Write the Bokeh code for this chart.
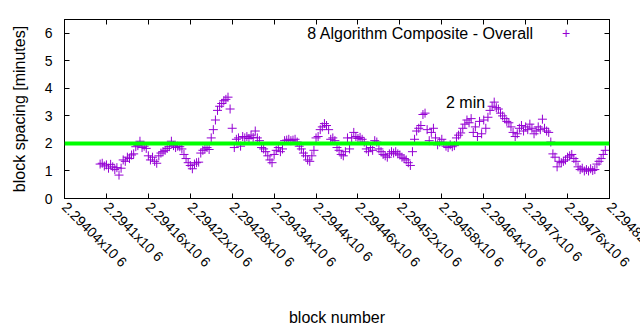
import math
import numpy as np
from bokeh.plotting import figure
from bokeh.models import Span, Label, LinearAxis, FixedTicker, Range1d
from bokeh.embed import file_html
from bokeh.resources import INLINE

# ---- data ----
first_block = 2294091
block_step = 3
spacing_minutes = [
    1.25, 1.28, 1.18, 1.22, 1.10, 1.24, 1.15, 1.05, 1.12, 0.85,
    1.10, 1.40, 1.35, 1.50, 1.45, 1.58, 1.62, 1.88, 1.92, 2.08,
    1.85, 1.90, 1.82, 1.55, 1.40, 1.50, 1.35, 1.28, 1.55, 1.65,
    1.70, 1.75, 1.82, 1.88, 2.08, 1.92, 1.85, 1.90, 1.88, 1.80,
    1.60, 1.45, 1.30, 1.20, 1.08, 1.25, 1.30, 1.32, 1.65, 1.75,
    1.80, 1.85, 1.78, 2.20, 2.50, 2.85, 3.20, 3.35, 3.45, 3.55,
    3.60, 3.68, 3.25, 2.55, 1.85, 2.15, 2.20, 1.90, 2.25, 2.20,
    2.25, 2.18, 2.30, 2.22, 2.45, 2.20, 2.10, 1.85, 1.80, 1.70,
    1.55, 1.40, 1.30, 1.60, 1.75, 1.85, 1.70, 1.80, 2.10, 2.12,
    2.15, 2.10, 2.12, 2.15, 2.05, 1.90, 1.80, 1.65, 1.55, 1.40,
    1.35, 1.55, 1.75, 2.20, 2.25, 2.50, 2.60, 2.72, 2.65, 2.50,
    2.15, 2.20, 2.10, 1.85, 1.75, 1.60, 1.55, 1.70, 2.20, 1.80,
    2.20, 2.40, 2.25, 2.18, 2.22, 2.15, 2.05, 1.80, 1.70, 1.85,
    1.75, 2.10, 2.05, 1.80, 1.70, 1.60, 1.55, 1.50, 1.62, 1.70,
    1.65, 1.70, 1.62, 1.58, 1.50, 1.45, 1.40, 1.30, 1.20, 1.70,
    2.15, 2.45, 2.55, 2.65, 3.05, 3.10, 2.50, 2.10, 2.40, 2.55,
    2.20, 1.95, 2.05, 2.15, 2.00, 1.90, 1.85, 1.95, 1.88, 1.92,
    2.20, 2.30, 2.38, 2.55, 2.70, 2.85, 2.75, 2.90, 2.40, 2.60,
    2.25, 2.80, 2.35, 2.85, 2.55, 2.95, 3.20, 3.35, 3.50, 3.30,
    3.25, 3.10, 3.00, 2.90, 2.80, 2.75, 2.60, 2.40, 2.25, 2.35,
    2.55, 2.65, 2.45, 2.60, 2.50, 2.70, 2.55, 2.35, 2.45, 2.60,
    2.50, 2.88, 2.55, 2.45, 2.40, 2.05, 1.62, 1.50, 1.15, 1.35,
    1.30, 1.35, 1.40, 1.50, 1.55, 1.60, 1.45, 1.35, 1.15, 1.05,
    1.10, 1.00, 1.05, 1.00, 1.08, 1.02, 1.05, 1.25, 1.35, 1.45,
    1.60, 1.75,
]
blocks = first_block + block_step * np.arange(len(spacing_minutes))

target_minutes = 2
target_label = "2 min"
target_label_pos = (2294586, 3.47)

series_name = "8 Algorithm Composite - Overall"
legend_pos = (2294712, 6.0)
legend_marker_pos = (2294758, 6.0)

x_ticks = [2294040, 2294100, 2294160, 2294220, 2294280, 2294340, 2294400,
           2294460, 2294520, 2294580, 2294640, 2294700, 2294760, 2294820]
x_tick_labels = ["2.29404x10 6", "2.2941x10 6", "2.29416x10 6", "2.29422x10 6",
                 "2.29428x10 6", "2.29434x10 6", "2.2944x10 6", "2.29446x10 6",
                 "2.29452x10 6", "2.29458x10 6", "2.29464x10 6", "2.2947x10 6",
                 "2.29476x10 6", "2.29482x10 6"]
y_ticks = [0, 1, 2, 3, 4, 5, 6]
x_min, x_max = 2294040, 2294820
y_min, y_max = 0, 6.5

FONT = "Liberation Sans"
PURPLE = "#9400d3"

p = figure(width=700, height=330, output_backend="svg", toolbar_location=None,
           x_range=Range1d(x_min, x_max), y_range=Range1d(y_min, y_max),
           min_border_left=64, min_border_right=91, min_border_top=19,
           min_border_bottom=132)
p.grid.visible = False
p.outline_line_color = "black"
p.outline_line_width = 1
p.background_fill_color = "white"
p.border_fill_color = "white"

def style_axis(ax, labels=True):
    ax.major_tick_in = 5
    ax.major_tick_out = 0
    ax.minor_tick_in = 0
    ax.minor_tick_out = 0
    ax.axis_line_color = "black"
    ax.major_tick_line_color = "black"
    ax.major_label_text_font = FONT
    ax.major_label_text_font_size = "14px"
    ax.major_label_text_color = "black"
    ax.axis_label_text_font = FONT
    ax.axis_label_text_font_size = "16px"
    ax.axis_label_text_font_style = "normal"
    ax.axis_label_text_color = "black"

xa = p.xaxis[0]
style_axis(xa)
xa.ticker = FixedTicker(ticks=x_ticks)
xa.major_label_overrides = {t: l for t, l in zip(x_ticks, x_tick_labels)}
xa.major_label_orientation = -math.pi / 4
xa.major_label_standoff = 6
xa.axis_label = "block number"
xa.axis_label_standoff = 30

ya = p.yaxis[0]
style_axis(ya)
ya.ticker = FixedTicker(ticks=y_ticks)
ya.major_label_standoff = 12
ya.axis_label = "block spacing [minutes]"
ya.axis_label_standoff = 14

top = LinearAxis(ticker=FixedTicker(ticks=x_ticks))
style_axis(top)
top.major_label_overrides = {t: "" for t in x_ticks}
top.major_label_text_color = None
top.major_label_standoff = 0
p.add_layout(top, "above")
right = LinearAxis(ticker=FixedTicker(ticks=y_ticks))
style_axis(right)
right.major_label_overrides = {t: "" for t in y_ticks}
right.major_label_text_color = None
right.major_label_standoff = 0
p.add_layout(right, "right")

p.add_layout(Span(location=target_minutes, dimension="width",
                  line_color="#00ff00", line_width=4))

p.scatter(blocks, spacing_minutes, marker="cross", size=9,
          line_color=PURPLE, line_width=1)

p.add_layout(Label(x=target_label_pos[0], y=target_label_pos[1], text=target_label,
                   text_font=FONT, text_font_size="16px", text_color="black",
                   text_baseline="middle", text_align="left"))
p.add_layout(Label(x=legend_pos[0], y=legend_pos[1], text=series_name,
                   text_font=FONT, text_font_size="16px", text_color="black",
                   text_baseline="middle", text_align="right"))
p.add_layout(Label(x=legend_marker_pos[0], y=legend_marker_pos[1], text="+",
                   text_font=FONT, text_font_size="14px", text_color=PURPLE,
                   text_baseline="middle", text_align="center"))

open("out.html", "w").write(file_html(p, INLINE))
